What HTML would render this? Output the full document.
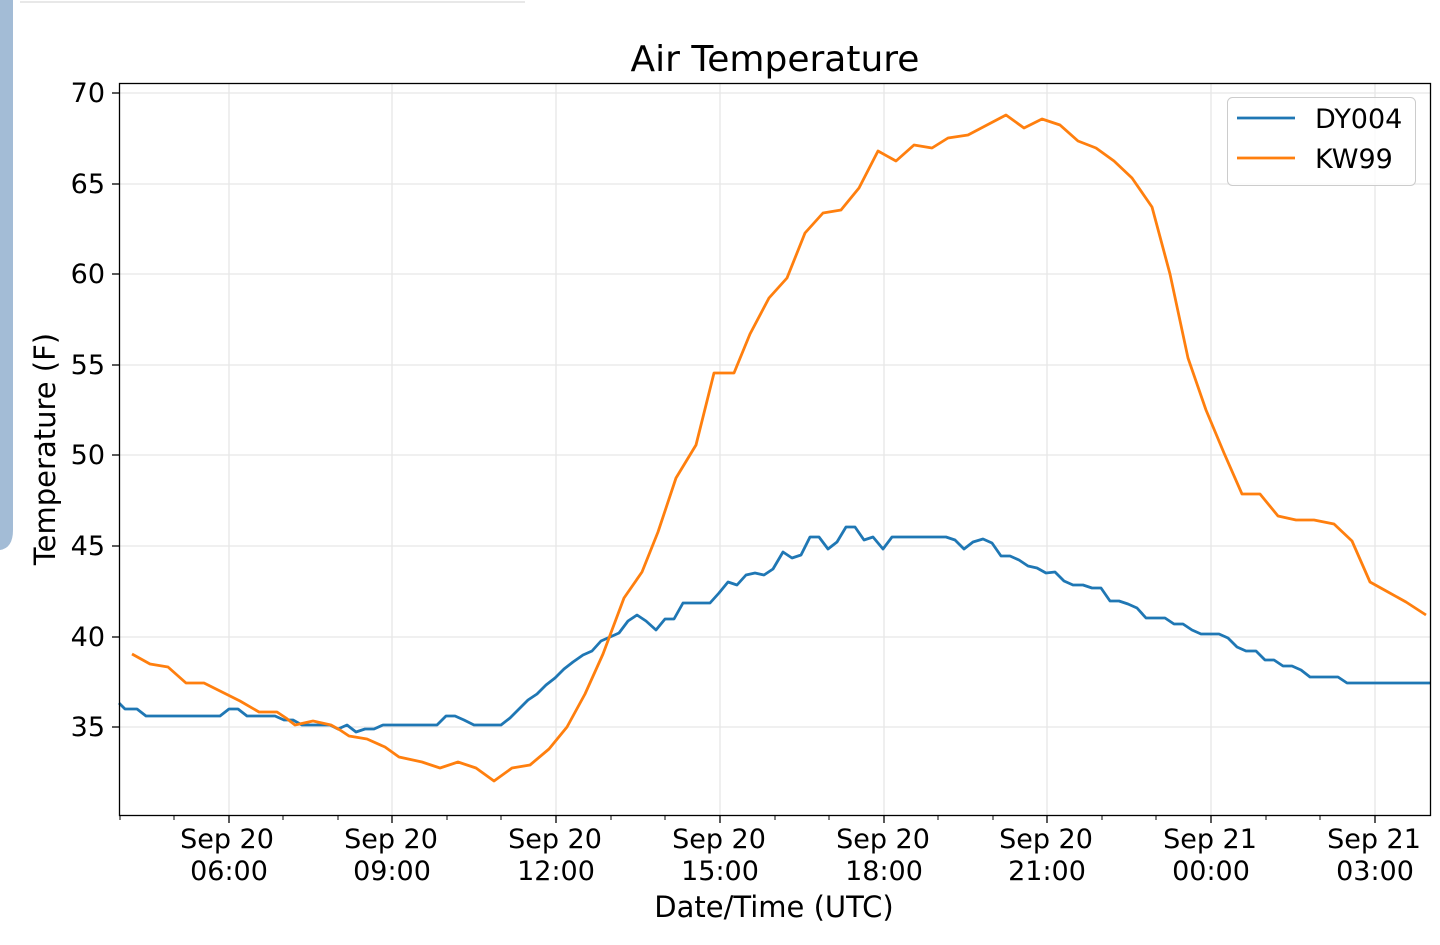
<!DOCTYPE html>
<html><head><meta charset="utf-8"><style>
html,body{margin:0;padding:0;background:#fff;width:1440px;height:945px;overflow:hidden}
svg{display:block}
text{font-family:"DejaVu Sans","Liberation Sans",sans-serif;fill:#000}
</style></head><body>
<svg width="1440" height="945" viewBox="0 0 1440 945">
<path d="M0 0 H13 V530 Q13 548 0 550 Z" fill="#a3bcd6"/>
<line x1="20" y1="2" x2="525" y2="2" stroke="#e8e8e8" stroke-width="2"/>
<g stroke="#e6e6e6" stroke-width="1.3">
<line x1="119" y1="93" x2="1430" y2="93"/><line x1="119" y1="184" x2="1430" y2="184"/>
<line x1="119" y1="274" x2="1430" y2="274"/><line x1="119" y1="365" x2="1430" y2="365"/>
<line x1="119" y1="455" x2="1430" y2="455"/><line x1="119" y1="546" x2="1430" y2="546"/>
<line x1="119" y1="637" x2="1430" y2="637"/><line x1="119" y1="727" x2="1430" y2="727"/>
<line x1="229" y1="83" x2="229" y2="815"/><line x1="392" y1="83" x2="392" y2="815"/>
<line x1="556" y1="83" x2="556" y2="815"/><line x1="720" y1="83" x2="720" y2="815"/>
<line x1="884" y1="83" x2="884" y2="815"/><line x1="1047" y1="83" x2="1047" y2="815"/>
<line x1="1211" y1="83" x2="1211" y2="815"/><line x1="1375" y1="83" x2="1375" y2="815"/>
</g>
<polyline fill="none" stroke="#1f77b4" stroke-width="2.8" stroke-linejoin="round" points="119,703 125,709 137,709 146,716 220,716 229,709 238,709 247,716 275,716 284,720 293,720 302,725 330,725 338,729 347,725 356,732 365,729 374,729 383,725 437,725 446,716 455,716 464,720 474,725 501,725 510,718 519,709 528,700 537,694 546,685 555,678 564,669 573,662 583,655 592,651 601,641 610,637 619,633 628,621 637,615 646,621 656,630 665,619 674,619 683,603 710,603 719,593 728,582 737,585 746,575 755,573 764,575 773,569 783,552 792,558 801,555 810,537 819,537 828,549 837,542 846,527 855,527 864,540 873,537 883,549 892,537 946,537 955,540 964,549 973,542 983,539 992,543 1001,556 1010,556 1019,560 1028,566 1037,568 1046,573 1055,572 1064,581 1073,585 1083,585 1092,588 1101,588 1110,601 1119,601 1128,604 1137,608 1146,618 1165,618 1174,624 1183,624 1192,630 1201,634 1219,634 1228,638 1237,647 1246,651 1256,651 1265,660 1274,660 1283,666 1292,666 1301,670 1310,677 1338,677 1347,683 1430,683"/>
<polyline fill="none" stroke="#ff7f0e" stroke-width="2.8" stroke-linejoin="round" points="132,654 141,659 150,664 168,667 186,683 204,683 222,692 240,701 259,712 277,712 286,718 295,725 313,721 331,725 340,730 349,736 367,739 385,747 399,757 422,762 440,768 458,762 476,768 494,781 512,768 530,765 549,749 567,727 585,694 603,654 624,598 642,572 658,532 676,478 696,445 714,373 734,373 750,334 769,298 787,278 805,233 823,213 841,210 859,188 878,151 896,161 914,145 932,148 948,138 968,135 987,125 1006,115 1024,128 1042,119 1060,125 1078,141 1096,148 1114,161 1132,178 1152,207 1170,274 1188,358 1206,410 1224,453 1242,494 1260,494 1278,516 1296,520 1314,520 1334,524 1352,541 1370,582 1388,592 1406,602 1426,615"/>
<rect x="119.5" y="83.5" width="1311" height="732" fill="none" stroke="#000" stroke-width="1.3"/>
<g stroke="#000" stroke-width="1.3">
<line x1="112" y1="93" x2="119" y2="93"/><line x1="112" y1="184" x2="119" y2="184"/>
<line x1="112" y1="274" x2="119" y2="274"/><line x1="112" y1="365" x2="119" y2="365"/>
<line x1="112" y1="455" x2="119" y2="455"/><line x1="112" y1="546" x2="119" y2="546"/>
<line x1="112" y1="637" x2="119" y2="637"/><line x1="112" y1="727" x2="119" y2="727"/>
<line x1="229" y1="816" x2="229" y2="823"/><line x1="392" y1="816" x2="392" y2="823"/>
<line x1="556" y1="816" x2="556" y2="823"/><line x1="720" y1="816" x2="720" y2="823"/>
<line x1="884" y1="816" x2="884" y2="823"/><line x1="1047" y1="816" x2="1047" y2="823"/>
<line x1="1211" y1="816" x2="1211" y2="823"/><line x1="1375" y1="816" x2="1375" y2="823"/>
</g>
<g stroke="#000" stroke-width="1">
<line x1="174" y1="816" x2="174" y2="820"/><line x1="283" y1="816" x2="283" y2="820"/><line x1="338" y1="816" x2="338" y2="820"/>
<line x1="447" y1="816" x2="447" y2="820"/><line x1="501" y1="816" x2="501" y2="820"/><line x1="611" y1="816" x2="611" y2="820"/>
<line x1="665" y1="816" x2="665" y2="820"/><line x1="775" y1="816" x2="775" y2="820"/><line x1="829" y1="816" x2="829" y2="820"/>
<line x1="938" y1="816" x2="938" y2="820"/><line x1="993" y1="816" x2="993" y2="820"/><line x1="1102" y1="816" x2="1102" y2="820"/>
<line x1="1156" y1="816" x2="1156" y2="820"/><line x1="1266" y1="816" x2="1266" y2="820"/><line x1="1320" y1="816" x2="1320" y2="820"/>
<line x1="120" y1="816" x2="120" y2="820"/>
</g>
<g font-size="27" text-anchor="end">
<text x="105" y="102">70</text><text x="105" y="193">65</text><text x="105" y="283">60</text>
<text x="105" y="374">55</text><text x="105" y="464">50</text><text x="105" y="555">45</text>
<text x="105" y="646">40</text><text x="105" y="736">35</text>
</g>
<g font-size="27" text-anchor="middle">
<text x="227" y="848">Sep 20</text><text x="229" y="880">06:00</text>
<text x="391" y="848">Sep 20</text><text x="392" y="880">09:00</text>
<text x="555" y="848">Sep 20</text><text x="556" y="880">12:00</text>
<text x="719" y="848">Sep 20</text><text x="720" y="880">15:00</text>
<text x="883" y="848">Sep 20</text><text x="884" y="880">18:00</text>
<text x="1046" y="848">Sep 20</text><text x="1047" y="880">21:00</text>
<text x="1210" y="848">Sep 21</text><text x="1211" y="880">00:00</text>
<text x="1374" y="848">Sep 21</text><text x="1375" y="880">03:00</text>
<text x="774" y="917" font-size="29">Date/Time (UTC)</text>
<text x="775" y="71" font-size="36">Air Temperature</text>
<text transform="translate(55,449) rotate(-90)" font-size="29">Temperature (F)</text>
</g>
<rect x="1227.5" y="97.5" width="188" height="88" rx="5" fill="#fff" fill-opacity="0.8" stroke="#ccc"/>
<line x1="1237" y1="118" x2="1295" y2="118" stroke="#1f77b4" stroke-width="2.8"/>
<line x1="1237" y1="158" x2="1295" y2="158" stroke="#ff7f0e" stroke-width="2.8"/>
<text x="1315" y="128" font-size="27">DY004</text>
<text x="1315" y="168" font-size="27">KW99</text>
</svg>
</body></html>
